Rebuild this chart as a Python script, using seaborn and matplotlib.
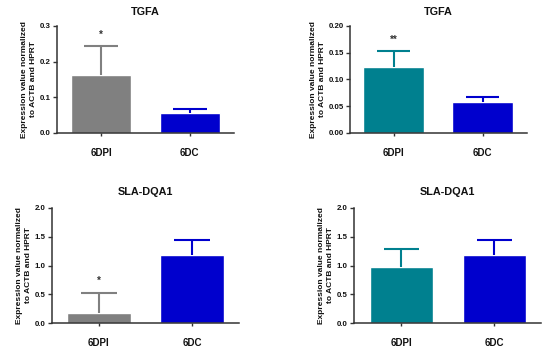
import matplotlib
matplotlib.use("Agg")
import matplotlib.pyplot as plt
import seaborn as sns

# group labels shared by all four panels
groups = ["6DPI", "6DC"]

# panel values (mean and top of the error bar)
tgfa_a_mean = [0.162, 0.057]
tgfa_a_top = [0.245, 0.068]
tgfa_b_mean = [0.1225, 0.0575]
tgfa_b_top = [0.154, 0.068]
sla_a_mean = [0.18, 1.178]
sla_a_top = [0.525, 1.452]
sla_b_mean = [0.968, 1.178]
sla_b_top = [1.289, 1.452]

# significance marks
tgfa_a_sig = ["*", ""]
tgfa_b_sig = ["**", ""]
sla_a_sig = ["*", ""]
sla_b_sig = ["", ""]

titles = ["TGFA", "TGFA", "SLA-DQA1", "SLA-DQA1"]
yticks_a = [0.0, 0.1, 0.2, 0.3]
yticks_b = [0.00, 0.05, 0.10, 0.15, 0.20]
yticks_c = [0.0, 0.5, 1.0, 1.5, 2.0]

GRAY = "#808080"
TEAL = "#00808f"
BLUE = "#0000cd"
AXC = "#333333"

sns.set_theme(style="white")
plt.rcParams["font.family"] = ["Liberation Sans", "DejaVu Sans"]
plt.rcParams["font.weight"] = "bold"

W, H = 550, 355
fig = plt.figure(figsize=(5.5, 3.55), dpi=100)


def px_axes(left, top, right, bottom):
    return fig.add_axes([left / W, 1 - bottom / H, (right - left) / W, (bottom - top) / H])


panels = [
    # axes box px, xlim, means, error tops, marks, colours, ticks, fmt, title pad
    ((57, 26, 234, 133), (-0.497, 1.5), tgfa_a_mean, tgfa_a_top, tgfa_a_sig, [GRAY, BLUE], yticks_a, "{:.1f}", 8),
    ((350, 26, 527, 133), (-0.49, 1.5), tgfa_b_mean, tgfa_b_top, tgfa_b_sig, [TEAL, BLUE], yticks_b, "{:.2f}", 8),
    ((52, 208, 239, 323), (-0.5, 1.5), sla_a_mean, sla_a_top, sla_a_sig, [GRAY, BLUE], yticks_c, "{:.1f}", 9.7),
    ((354, 208, 541, 323), (-0.51, 1.5), sla_b_mean, sla_b_top, sla_b_sig, [TEAL, BLUE], yticks_c, "{:.1f}", 9.7),
]

for i, (box, xl, mean, top, sig, cols, yt, fmt, tpad) in enumerate(panels):
    ax = px_axes(*box)
    sns.barplot(x=groups, y=mean, hue=groups, palette=cols, legend=False,
                width=0.68, saturation=1, ax=ax)
    # upper-only error bars with a cap
    for j in range(len(groups)):
        ax.vlines(j, mean[j], top[j], color=cols[j], linewidth=1.5, zorder=1)
        ax.hlines(top[j], j - 0.19, j + 0.19, color=cols[j], linewidth=1.5, zorder=1)
        if sig[j]:
            ax.text(j, top[j] + 0.1 * yt[-1], sig[j], ha="center", va="center",
                    fontsize=7, fontweight="bold", color="#333333")
    ax.set_xlim(*xl)
    ax.set_ylim(yt[0], yt[-1])
    ax.set_yticks(yt)
    ax.set_yticklabels([fmt.format(v) for v in yt])
    ax.set_title(titles[i], fontsize=7.8, fontweight="bold", pad=tpad, color="#111111")
    ax.set_ylabel("Expression value normalized\nto ACTB and HPRT", fontsize=6,
                  fontweight="bold", labelpad=2, color="#111111", linespacing=1.3)
    for s in ["top", "right"]:
        ax.spines[s].set_visible(False)
    for s in ["left", "bottom"]:
        ax.spines[s].set_color(AXC)
        ax.spines[s].set_linewidth(1.1)
    ax.tick_params(axis="y", direction="out", length=3, width=1, color=AXC,
                   pad=1.5, labelsize=5.7, left=True)
    ax.tick_params(axis="x", direction="out", length=2, width=1, color=AXC,
                   pad=8.5, labelsize=7, bottom=True)
    for lab in ax.get_xticklabels() + ax.get_yticklabels():
        lab.set_fontweight("bold")
        lab.set_color("#111111")
    ax.set_facecolor("white")

fig.savefig("out.png", dpi=100, facecolor="white")
